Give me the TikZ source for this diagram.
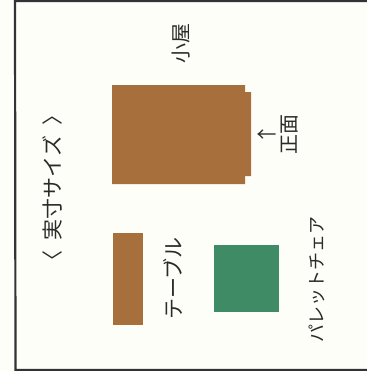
\documentclass[tikz,border=0pt]{standalone}
\usepackage{fontspec}
\newfontfamily\jpfont{Noto Sans CJK JP}
\definecolor{paper}{HTML}{FDFEF7}
\definecolor{woodbrown}{HTML}{A66F3C}
\definecolor{chairgreen}{HTML}{3F8B66}
\definecolor{framegray}{HTML}{333333}
\definecolor{inkgray}{HTML}{2A2A2A}
\tikzset{
  lbl/.style={rotate=90,inner sep=0pt,text=inkgray,font=\jpfont\fontsize{20bp}{20bp}\selectfont},
  lblwide/.style={lbl,font=\jpfont\fontsize{21bp}{21bp}\selectfont},
  lblsmall/.style={lbl,font=\jpfont\fontsize{18bp}{18bp}\selectfont},
  wood/.style={fill=woodbrown,draw=none},
  chair/.style={fill=chairgreen,draw=none},
}
\begin{document}
\begin{tikzpicture}[x=1bp,y=-1bp]
\useasboundingbox (0,0) rectangle (367,371);
\fill[paper] (0,0) rectangle (367,371);
\draw[framegray,line width=2.2bp] (367,1) -- (15,1) -- (15.5,370) -- (367,370);
\fill[wood] (112,85) -- (245,85) -- (245,92) -- (251,92) -- (251,176) -- (245,176) -- (245,184) -- (112,184) -- cycle;
\node[wood,minimum width=30bp,minimum height=92bp,inner sep=0pt] (table) at (128,279) {};
\node[chair,minimum width=65bp,minimum height=67bp,inner sep=0pt] (palletchair) at (246.5,278.5) {};
\node[lblwide] (title) at (52,188) {〈\hspace{10bp}実寸サイズ\hspace{10bp}〉};
\node[lbl] (hut) at (181,43) {小屋};
\node[lbl] (front) at (290,134) {正面};
\node[lbl] (arrow) at (267,134) {↑};
\node[lblwide] (tablelabel) at (173,278.5) {テーブル};
\node[lblsmall] (chairlabel) at (317,279) {パレットチェア};
\end{tikzpicture}
\end{document}
